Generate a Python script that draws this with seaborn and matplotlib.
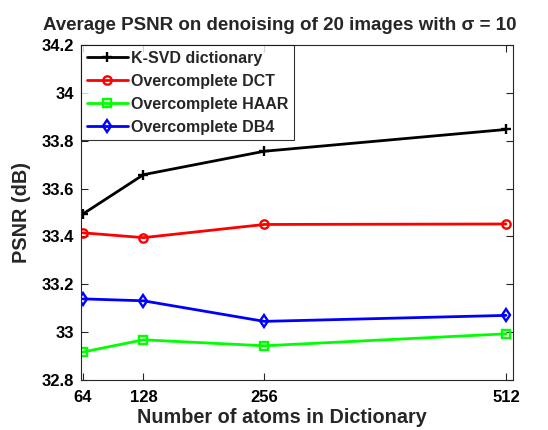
import numpy as np
import pandas as pd
import matplotlib
matplotlib.use("Agg")
import matplotlib.pyplot as plt
import seaborn as sns

# data
atoms = [64, 128, 256, 512]
ksvd = [33.494, 33.658, 33.756, 33.847]
dct = [33.415, 33.395, 33.450, 33.452]
haar = [32.917, 32.968, 32.943, 32.993]
db4 = [33.139, 33.131, 33.045, 33.070]

series = ["K-SVD dictionary", "Overcomplete DCT", "Overcomplete HAAR", "Overcomplete DB4"]
colors = ["#000000", "#ff0000", "#00ff00", "#0000ff"]
markers = ["+", "o", "s", "d"]

df = pd.DataFrame({
    "atoms": atoms * 4,
    "psnr": ksvd + dct + haar + db4,
    "method": np.repeat(series, len(atoms)),
})

sns.set_style("ticks")
plt.rcParams["font.family"] = ["Liberation Sans", "DejaVu Sans"]
plt.rcParams["font.weight"] = "bold"

fig = plt.figure(figsize=(5.48, 4.30), dpi=100)
ax = fig.add_axes([81 / 548, 1 - 380 / 430, 432 / 548, 335 / 430])

for name, c, m in zip(series, colors, markers):
    sub = df[df["method"] == name]
    sns.lineplot(data=sub, x="atoms", y="psnr", ax=ax, color=c, marker=m,
                 markerfacecolor="none", markeredgecolor=c, markeredgewidth=1.7,
                 markersize=6 if m != "+" else 7, linewidth=2.0, label=name)

ax.set_xlim(61.9, 519.4)
ax.set_ylim(32.8, 34.2)
ax.set_xticks(atoms)
ax.set_yticks([32.8, 33, 33.2, 33.4, 33.6, 33.8, 34, 34.2])
ax.set_yticklabels(["32.8", "33", "33.2", "33.4", "33.6", "33.8", "34", "34.2"])
ax.tick_params(direction="in", top=True, right=True, labelsize=12, length=5,
               width=0.8, colors="#262626", labelcolor="black")
ax.tick_params(axis="x", pad=7)
ax.tick_params(axis="y", pad=5)
for lab in ax.get_xticklabels() + ax.get_yticklabels():
    lab.set_fontweight("bold")
for s in ax.spines.values():
    s.set_color("#262626")
    s.set_linewidth(0.8)

ax.set_xlabel("Number of atoms in Dictionary", fontsize=14.3, fontweight="bold", labelpad=3)
ax.xaxis.set_label_coords(0.465, -0.085, transform=ax.transAxes)
ax.xaxis.label.set_va("top")
ax.set_ylabel("PSNR (dB)", fontsize=14.3, fontweight="bold", labelpad=8)
ax.set_title("Average PSNR on denoising of 20 images with σ = 10",
             fontsize=13.5, fontweight="bold", pad=11, x=0.46)

leg = ax.legend(loc="upper left", fontsize=11.5, frameon=True, fancybox=False,
                borderaxespad=0, handlelength=2.6, labelspacing=0.5,
                borderpad=0.35, handletextpad=0.2)
leg.get_frame().set_edgecolor("black")
leg.get_frame().set_linewidth(0.8)
for t in leg.get_texts():
    t.set_fontweight("bold")

fig.savefig("out.png", dpi=100)
